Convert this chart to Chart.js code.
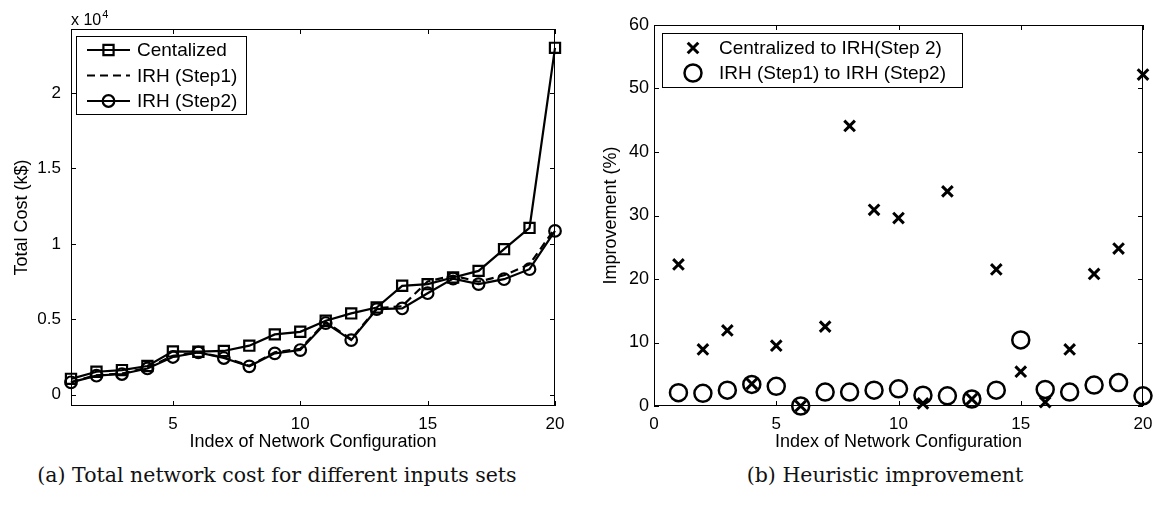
<!DOCTYPE html>
<html>
<head>
<meta charset="utf-8">
<script src="https://cdn.jsdelivr.net/npm/chart.js@4.4.1/dist/chart.umd.min.js"></script>
<style>
  html, body { margin: 0; padding: 0; background: #fff; }
  body { width: 1161px; height: 508px; position: relative; overflow: hidden; }
  canvas { position: absolute; top: 0; }
  #costChart { left: 0; }
  #improveChart { left: 580px; }
  .caption { position: absolute; top: 463px; font-family: 'DejaVu Serif', serif; font-size: 20.5px; color: #111; white-space: nowrap; text-align: center; }
</style>
</head>
<body>
<canvas id="costChart" width="580" height="460"></canvas>
<canvas id="improveChart" width="581" height="460"></canvas>
<div class="caption" style="left:0;width:554px">(a) Total network cost for different inputs sets</div>
<div class="caption" style="left:590px;width:590px">(b) Heuristic improvement</div>
<script>
// indice das configuracoes de rede
const configIndex = [1, 2, 3, 4, 5, 6, 7, 8, 9, 10, 11, 12, 13, 14, 15, 16, 17, 18, 19, 20];

// (a) custo total em k$
const costCentralized = [1050, 1520, 1630, 1900, 2870, 2850, 2900, 3250, 4000, 4170, 4900, 5390, 5780, 7220, 7330, 7770, 8210, 9650, 11060, 23000];
const costStep1 = [840, 1290, 1400, 1800, 2580, 2800, 2480, 1920, 2810, 3040, 4830, 3680, 5730, 5870, 7510, 7900, 7490, 7920, 8640, 11030];
const costStep2 = [820, 1260, 1370, 1740, 2500, 2800, 2430, 1880, 2740, 2960, 4750, 3620, 5670, 5720, 6730, 7700, 7330, 7660, 8320, 10860];

// (b) melhoria em %
const improveCentralized = [22.3, 8.9, 11.9, 3.5, 9.5, 0, 12.5, 44.1, 30.9, 29.6, 0.4, 33.8, 1.1, 21.5, 5.4, 0.6, 8.9, 20.8, 24.8, 52.2];
const improveStep1 = [2.1, 2.0, 2.5, 3.4, 3.1, 0, 2.2, 2.2, 2.5, 2.7, 1.7, 1.6, 1.1, 2.5, 10.4, 2.6, 2.2, 3.3, 3.7, 1.6];

// marcas dos eixos
const xTicksCost = [5, 10, 15, 20];
const yTicksCost = [0, 5000, 10000, 15000, 20000];
const xTicksImprove = [0, 5, 10, 15, 20];
const yTicksImprove = [0, 10, 20, 30, 40, 50, 60];

Chart.defaults.font.family = "'Liberation Sans', Arial, sans-serif";
Chart.defaults.color = '#000';

const toPoints = (values) => configIndex.map((x, i) => ({ x: x, y: values[i] }));

// desenha um marcador simples (quadrado, circulo, x)
function drawMarker(ctx, style, r, lw, x, y) {
    if (!style) return;
    ctx.save();
    ctx.setLineDash([]);
    ctx.lineWidth = lw;
    ctx.strokeStyle = '#000';
    ctx.beginPath();
    if (style === 'rect') {
        const s = Math.SQRT1_2 * r;
        ctx.rect(x - s, y - s, 2 * s, 2 * s);
    } else if (style === 'circle') {
        ctx.arc(x, y, r, 0, Math.PI * 2);
    } else if (style === 'crossRot') {
        const d = Math.SQRT1_2 * r;
        ctx.moveTo(x - d, y - d); ctx.lineTo(x + d, y + d);
        ctx.moveTo(x - d, y + d); ctx.lineTo(x + d, y - d);
    }
    ctx.stroke();
    ctx.restore();
}

// moldura estilo MATLAB, marcas para dentro e legenda dentro do grafico
const matlabFrame = {
    id: 'matlabFrame',
    afterDatasetsDraw(chart, args, opts) {
        const { ctx, chartArea: a, scales } = chart;
        const tick = 5;
        ctx.save();
        ctx.strokeStyle = '#000';
        ctx.lineWidth = 1;
        ctx.strokeRect(a.left + 0.5, a.top + 0.5, a.width - 1, a.height - 1);
        ctx.beginPath();
        scales.x.ticks.forEach(t => {
            const px = Math.round(scales.x.getPixelForValue(t.value)) + 0.5;
            ctx.moveTo(px, a.bottom); ctx.lineTo(px, a.bottom - tick);
            ctx.moveTo(px, a.top); ctx.lineTo(px, a.top + tick);
        });
        scales.y.ticks.forEach(t => {
            const py = Math.round(scales.y.getPixelForValue(t.value)) + 0.5;
            ctx.moveTo(a.left, py); ctx.lineTo(a.left + tick, py);
            ctx.moveTo(a.right, py); ctx.lineTo(a.right - tick, py);
        });
        ctx.stroke();

        // legenda
        const L = opts.legend;
        ctx.fillStyle = '#fff';
        ctx.fillRect(L.x, L.y, L.w, L.h);
        ctx.strokeRect(L.x + 0.5, L.y + 0.5, L.w, L.h);
        ctx.font = L.font + "px 'Liberation Sans', Arial, sans-serif";
        ctx.textBaseline = 'middle';
        ctx.textAlign = 'left';
        chart.data.datasets.forEach((ds, i) => {
            const cy = L.y + L.rowTop + i * L.rowGap;
            if (L.lineLen && ds.showLine !== false) {
                ctx.save();
                ctx.lineWidth = ds.borderWidth;
                ctx.setLineDash(ds.borderDash || []);
                ctx.beginPath();
                ctx.moveTo(L.sx, cy); ctx.lineTo(L.sx + L.lineLen, cy);
                ctx.stroke();
                ctx.restore();
            }
            if (ds.pointRadius > 0) {
                drawMarker(ctx, ds.pointStyle, ds.pointRadius, ds.pointBorderWidth, L.mx, cy);
            }
            ctx.fillStyle = '#000';
            ctx.fillText(ds.label, L.tx, cy + 1);
        });

        // multiplicador x 10^4
        if (opts.multiplier) {
            ctx.font = "16px 'Liberation Sans', Arial, sans-serif";
            ctx.textBaseline = 'alphabetic';
            ctx.fillText('x 10', a.left, 25);
            const w = ctx.measureText('x 10').width;
            ctx.font = "11px 'Liberation Sans', Arial, sans-serif";
            ctx.fillText('4', a.left + w + 1, 18);
        }
        ctx.restore();
    }
};

function axisX(min, max, ticks, height) {
    return {
        type: 'linear', min: min, max: max,
        afterBuildTicks: s => { s.ticks = ticks.map(v => ({ value: v })); },
        afterFit: s => { s.height = height; },
        grid: { display: false, drawTicks: false },
        border: { display: false },
        ticks: { padding: 8, font: { size: 17 }, maxRotation: 0, autoSkip: false },
        title: { display: true, text: 'Index of Network Configuration', font: { size: 18 }, padding: { top: 0, bottom: 7 } }
    };
}

// grafico (a) custo total
new Chart(document.getElementById('costChart').getContext('2d'), {
    type: 'line',
    data: {
        datasets: [{
            label: 'Centalized',
            data: toPoints(costCentralized),
            borderColor: '#000', borderWidth: 2.2,
            pointStyle: 'rect', pointRadius: 7.2, pointBorderWidth: 2.2,
            pointBorderColor: '#000', pointBackgroundColor: 'rgba(0,0,0,0)',
            clip: false
        }, {
            label: 'IRH (Step1)',
            data: toPoints(costStep1),
            borderColor: '#000', borderWidth: 2.2, borderDash: [8, 5],
            pointRadius: 0,
            clip: false
        }, {
            label: 'IRH (Step2)',
            data: toPoints(costStep2),
            borderColor: '#000', borderWidth: 2.2,
            pointStyle: 'circle', pointRadius: 5.8, pointBorderWidth: 2.2,
            pointBorderColor: '#000', pointBackgroundColor: 'rgba(0,0,0,0)',
            clip: false
        }]
    },
    options: {
        responsive: false,
        animation: false,
        layout: { autoPadding: false, padding: { top: 29, right: 25, left: 0, bottom: 0 } },
        plugins: {
            legend: { display: false },
            tooltip: { enabled: false },
            matlabFrame: {
                multiplier: true,
                legend: { x: 76, y: 36, w: 170, h: 78, rowTop: 14, rowGap: 25.5, font: 19, sx: 87, lineLen: 43, mx: 108.5, tx: 137 }
            }
        },
        scales: {
            x: axisX(1, 20, xTicksCost, 54),
            y: {
                type: 'linear', min: -750, max: 24250,
                afterBuildTicks: s => { s.ticks = yTicksCost.map(v => ({ value: v })); },
                afterFit: s => { s.width = 71; },
                grid: { display: false, drawTicks: false },
                border: { display: false },
                ticks: { padding: 10, font: { size: 17 }, callback: v => String(v / 10000) },
                title: { display: true, text: 'Total Cost (k$)', font: { size: 18 }, padding: { top: 11, bottom: 0 } }
            }
        }
    },
    plugins: [matlabFrame]
});

// grafico (b) melhoria heuristica
new Chart(document.getElementById('improveChart').getContext('2d'), {
    type: 'scatter',
    data: {
        datasets: [{
            label: 'Centralized to IRH(Step 2)',
            data: toPoints(improveCentralized),
            showLine: false,
            pointStyle: 'crossRot', pointRadius: 7.5, pointBorderWidth: 3,
            pointBorderColor: '#000', pointBackgroundColor: 'rgba(0,0,0,0)',
            clip: false
        }, {
            label: 'IRH (Step1) to IRH (Step2)',
            data: toPoints(improveStep1),
            showLine: false,
            pointStyle: 'circle', pointRadius: 8.5, pointBorderWidth: 2.5,
            pointBorderColor: '#000', pointBackgroundColor: 'rgba(0,0,0,0)',
            clip: false
        }]
    },
    options: {
        responsive: false,
        animation: false,
        layout: { autoPadding: false, padding: { top: 25, right: 18, left: 0, bottom: 0 } },
        plugins: {
            legend: { display: false },
            tooltip: { enabled: false },
            matlabFrame: {
                multiplier: false,
                legend: { x: 82, y: 33, w: 300, h: 54, rowTop: 15, rowGap: 25, font: 19, sx: 0, lineLen: 0, mx: 113, tx: 139 }
            }
        },
        scales: {
            x: axisX(0, 20, xTicksImprove, 54),
            y: {
                type: 'linear', min: 0, max: 60,
                afterBuildTicks: s => { s.ticks = yTicksImprove.map(v => ({ value: v })); },
                afterFit: s => { s.width = 74; },
                grid: { display: false, drawTicks: false },
                border: { display: false },
                ticks: { padding: 5, font: { size: 18 } },
                title: { display: true, text: 'Improvement (%)', font: { size: 18 }, padding: { top: 20, bottom: 0 } }
            }
        }
    },
    plugins: [matlabFrame]
});
</script>
</body>
</html>
